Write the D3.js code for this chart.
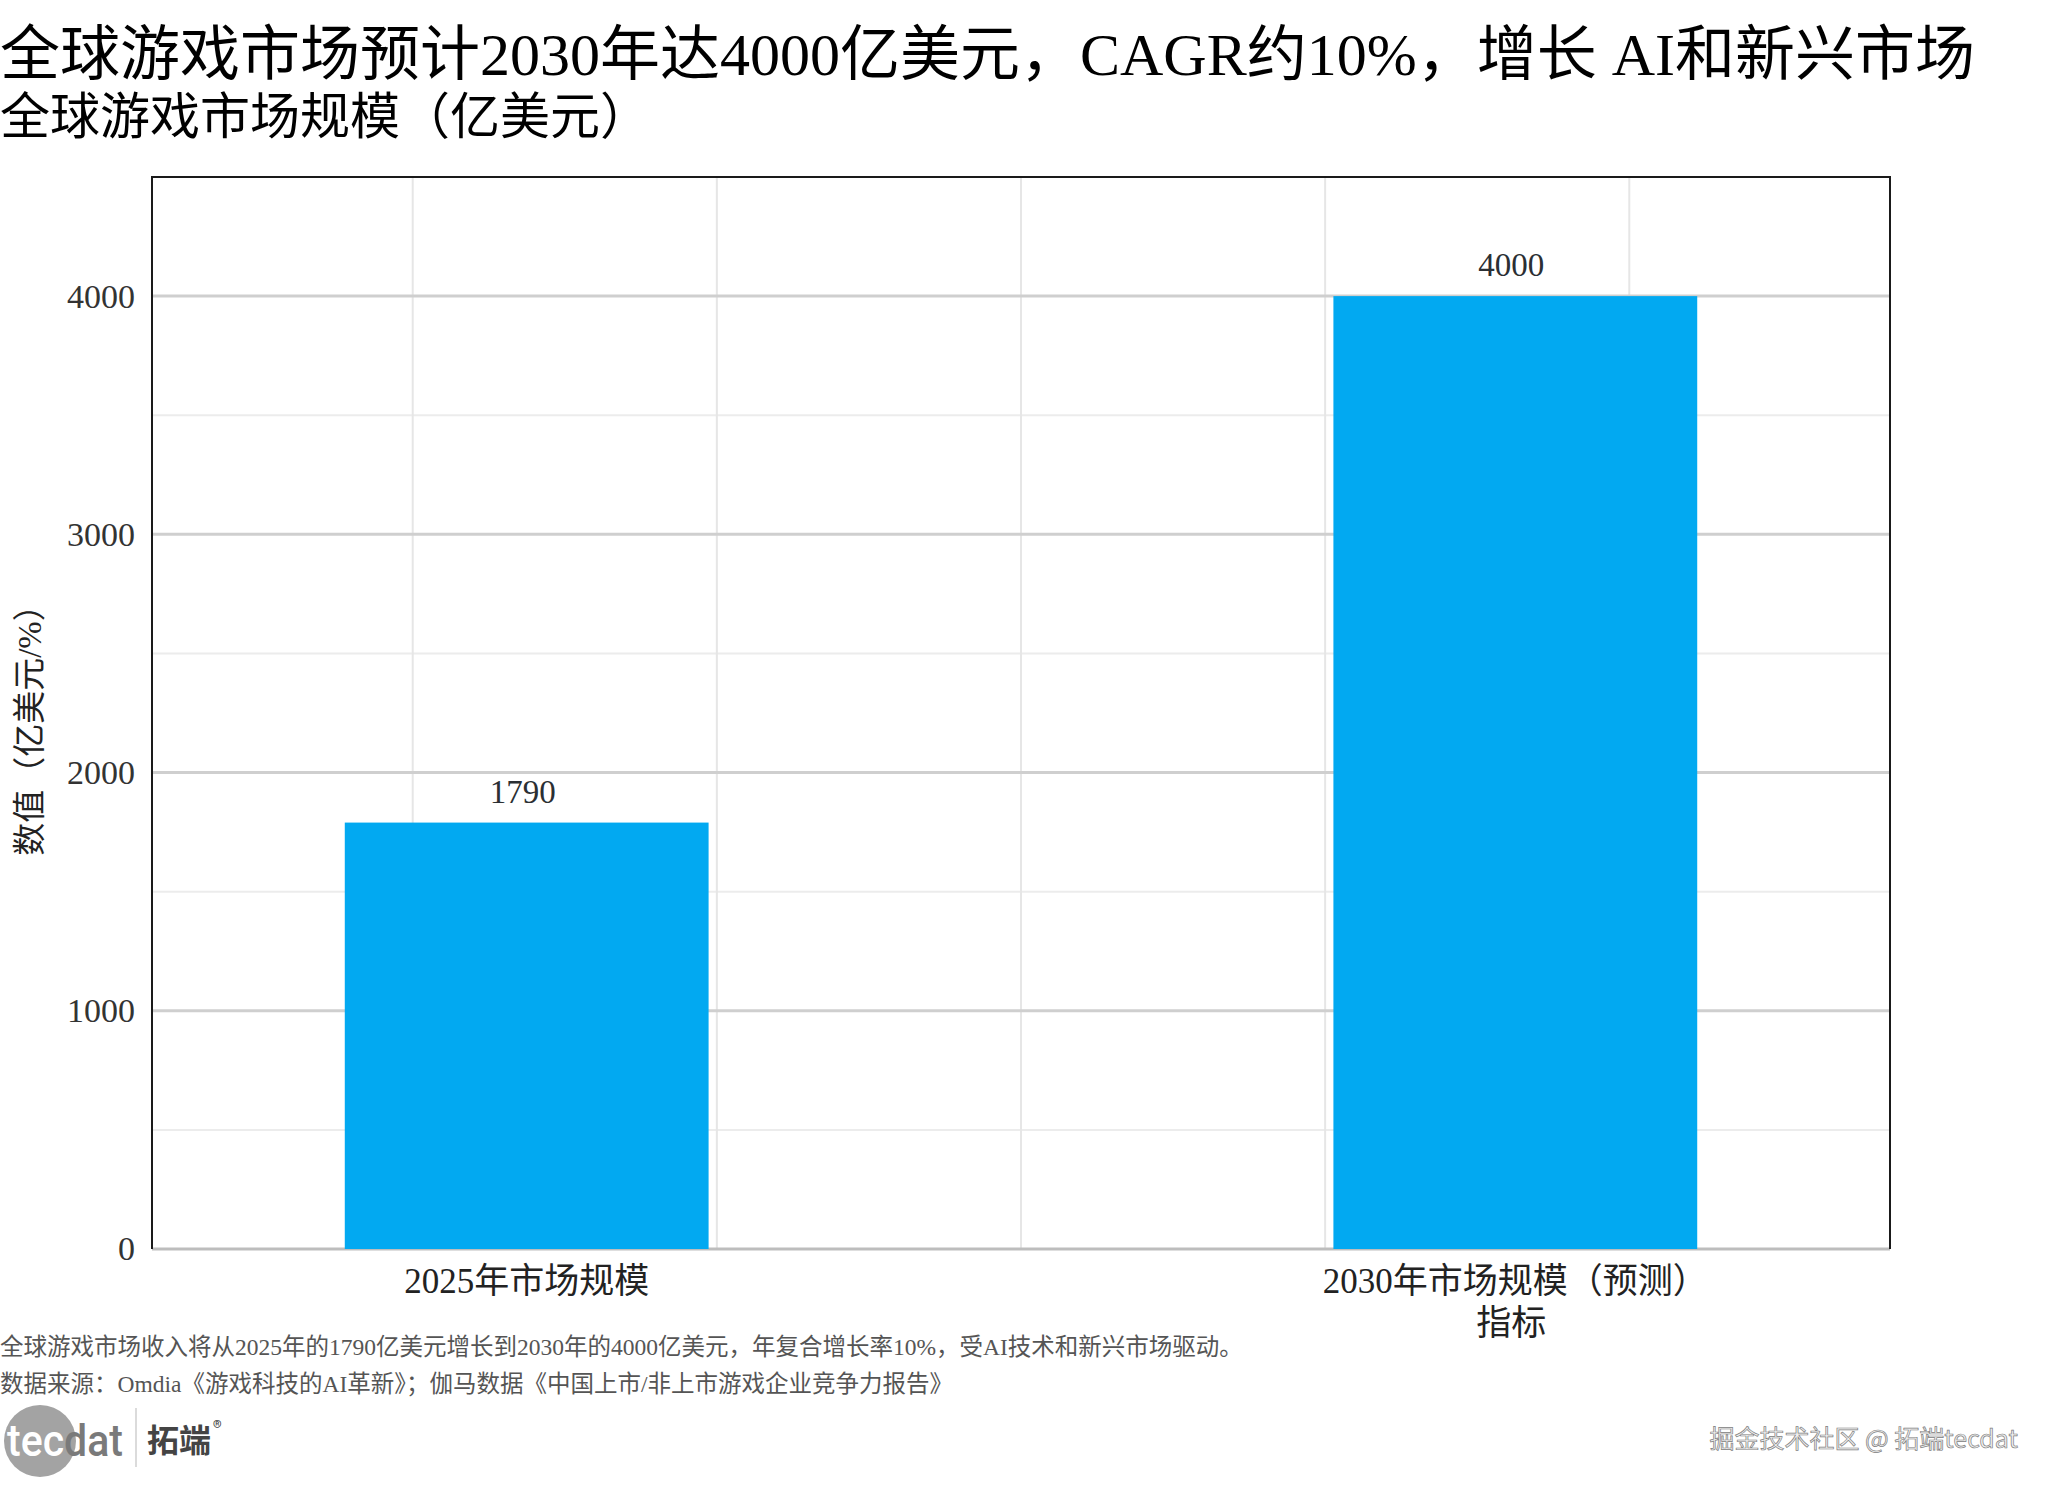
<!DOCTYPE html>
<html>
<head>
<meta charset="utf-8">
<script src="https://cdn.jsdelivr.net/npm/d3@7"></script>
<style>
  body { margin: 0; background: #fff; }
  svg { display: block; }
</style>
</head>
<body>
<svg width="2055" height="1488"></svg>
<script>
var categories = ["2025年市场规模", "2030年市场规模（预测）"];
var values = [1790, 4000];
var yMajor = [0, 1000, 2000, 3000, 4000];
var yMinor = [500, 1500, 2500, 3500];
var xGrid = [0.15, 0.325, 0.5, 0.675, 0.85];

var width = 2055;
var height = 1488;
var margin = {left: 152, right: 165, top: 177, bottom: 239};
var serif = "'Liberation Serif', 'Noto Sans CJK SC', serif";
var sans = "'Noto Sans CJK SC', 'Noto Sans', sans-serif";

var svg = d3.select("svg");

var y = d3.scaleLinear().domain([0, 4500]).range([height - margin.bottom, margin.top]);
var x = d3.scaleBand().domain(categories)
  .range([margin.left, width - margin.right])
  .paddingInner(0.632).paddingOuter(0.195);
// separate linear scale for the vertical grid lines (they don't line up with the bars)
var gx = d3.scaleLinear().domain([0, 1]).range([margin.left, width - margin.right]);

// minor grid
svg.append("g").selectAll("line")
  .data(yMinor).enter().append("line")
  .attr("x1", margin.left).attr("x2", width - margin.right)
  .attr("y1", y).attr("y2", y)
  .attr("stroke", "#ececec").attr("stroke-width", 2);

// vertical grid
svg.append("g").selectAll("line")
  .data(xGrid).enter().append("line")
  .attr("x1", gx).attr("x2", gx)
  .attr("y1", margin.top).attr("y2", height - margin.bottom)
  .attr("stroke", "#e6e6e6").attr("stroke-width", 2);

// major grid
svg.append("g").selectAll("line")
  .data(yMajor.slice(1)).enter().append("line")
  .attr("x1", margin.left).attr("x2", width - margin.right)
  .attr("y1", y).attr("y2", y)
  .attr("stroke", "#cfcfcf").attr("stroke-width", 3);

// x axis line
svg.append("line")
  .attr("x1", margin.left).attr("x2", width - margin.right)
  .attr("y1", y(0)).attr("y2", y(0))
  .attr("stroke", "#bdbdbd").attr("stroke-width", 3);

// bars
svg.selectAll("rect.bar")
  .data(values).enter().append("rect")
  .attr("class", "bar")
  .attr("x", function (d, i) { return x(categories[i]); })
  .attr("width", x.bandwidth())
  .attr("y", function (d) { return y(d); })
  .attr("height", function (d) { return y(0) - y(d); })
  .attr("fill", "#02a9f1");

// value labels
svg.selectAll("text.val")
  .data(values).enter().append("text")
  .attr("class", "val")
  .attr("x", function (d, i) { return x(categories[i]) + x.bandwidth() / 2 - 4; })
  .attr("y", function (d) { return y(d) - 20; })
  .attr("text-anchor", "middle")
  .style("font-family", serif).style("font-size", "33px").style("fill", "#2b2f33")
  .text(function (d) { return d; });

// panel border (left, top, right)
svg.append("path")
  .attr("d", "M" + margin.left + "," + y(0) + "V" + margin.top + "H" + (width - margin.right) + "V" + y(0))
  .attr("fill", "none").attr("stroke", "#1a1a1a").attr("stroke-width", 2);

// axes
var axisLeft = d3.axisLeft(y).tickValues(yMajor).tickFormat(d3.format("d")).tickSize(0).tickPadding(17);
var gy = svg.append("g").attr("transform", "translate(" + margin.left + ",0)").call(axisLeft);
gy.select(".domain").remove();
gy.selectAll("text").style("font-family", serif).style("font-size", "34px").style("fill", "#333");

var axisBottom = d3.axisBottom(x).tickSize(0).tickPadding(19);
var gb = svg.append("g").attr("transform", "translate(0," + y(0) + ")").call(axisBottom);
gb.select(".domain").remove();
gb.selectAll("text").style("font-family", serif).style("font-size", "35px").style("fill", "#222");

// axis titles
svg.append("text")
  .attr("transform", "translate(30," + 722 + ") rotate(-90)")
  .attr("text-anchor", "middle").attr("dominant-baseline", "central")
  .style("font-family", serif).style("font-size", "33px").style("fill", "#222")
  .text("数值（亿美元/%）");

svg.append("text")
  .attr("x", x(categories[1]) + x.bandwidth() / 2 - 4).attr("y", 1335)
  .attr("text-anchor", "middle")
  .style("font-family", serif).style("font-size", "35px").style("fill", "#222")
  .text("指标");

// titles
svg.append("text")
  .attr("x", 0).attr("y", 75)
  .style("font-family", serif).style("font-size", "60px").style("fill", "#000")
  .text("全球游戏市场预计2030年达4000亿美元，CAGR约10%，增长 AI和新兴市场");

svg.append("text")
  .attr("x", 0).attr("y", 134)
  .style("font-family", serif).style("font-size", "50px").style("fill", "#000")
  .text("全球游戏市场规模（亿美元）");

// footer notes
svg.append("text")
  .attr("x", 0).attr("y", 1355)
  .style("font-family", serif).style("font-size", "23.5px").style("fill", "#555")
  .text("全球游戏市场收入将从2025年的1790亿美元增长到2030年的4000亿美元，年复合增长率10%，受AI技术和新兴市场驱动。");

svg.append("text")
  .attr("x", 0).attr("y", 1392)
  .style("font-family", serif).style("font-size", "23.5px").style("fill", "#555")
  .text("数据来源：Omdia《游戏科技的AI革新》；伽马数据《中国上市/非上市游戏企业竞争力报告》");

// logo
var logo = svg.append("g");
logo.append("circle").attr("cx", 40).attr("cy", 1441).attr("r", 36).attr("fill", "#a3a3a3");
logo.append("text")
  .attr("x", 7).attr("y", 1456)
  .style("font-family", "Roboto, sans-serif").style("font-size", "44px").style("font-weight", "500")
  .attr("textLength", 116).attr("lengthAdjust", "spacingAndGlyphs")
  .call(function (t) {
    t.append("tspan").style("fill", "#fff").text("tec");
    t.append("tspan").style("fill", "#7a7a7a").text("dat");
  });
logo.append("line").attr("x1", 136).attr("x2", 136).attr("y1", 1408).attr("y2", 1467)
  .attr("stroke", "#cfcfcf").attr("stroke-width", 1.5);
logo.append("text")
  .attr("x", 147).attr("y", 1452)
  .style("font-family", sans).style("font-size", "32px").style("font-weight", "bold").style("fill", "#444")
  .text("拓端");
logo.append("text")
  .attr("x", 213).attr("y", 1434)
  .style("font-family", sans).style("font-size", "18px").style("fill", "#444")
  .text("®");

// watermark
svg.append("text")
  .attr("x", 2018).attr("y", 1448)
  .attr("text-anchor", "end")
  .style("font-family", sans).style("font-size", "25px")
  .style("fill", "#f0f0f0").style("stroke", "#808080").style("stroke-width", "0.7px")
  .text("掘金技术社区 @ 拓端tecdat");
</script>
</body>
</html>
